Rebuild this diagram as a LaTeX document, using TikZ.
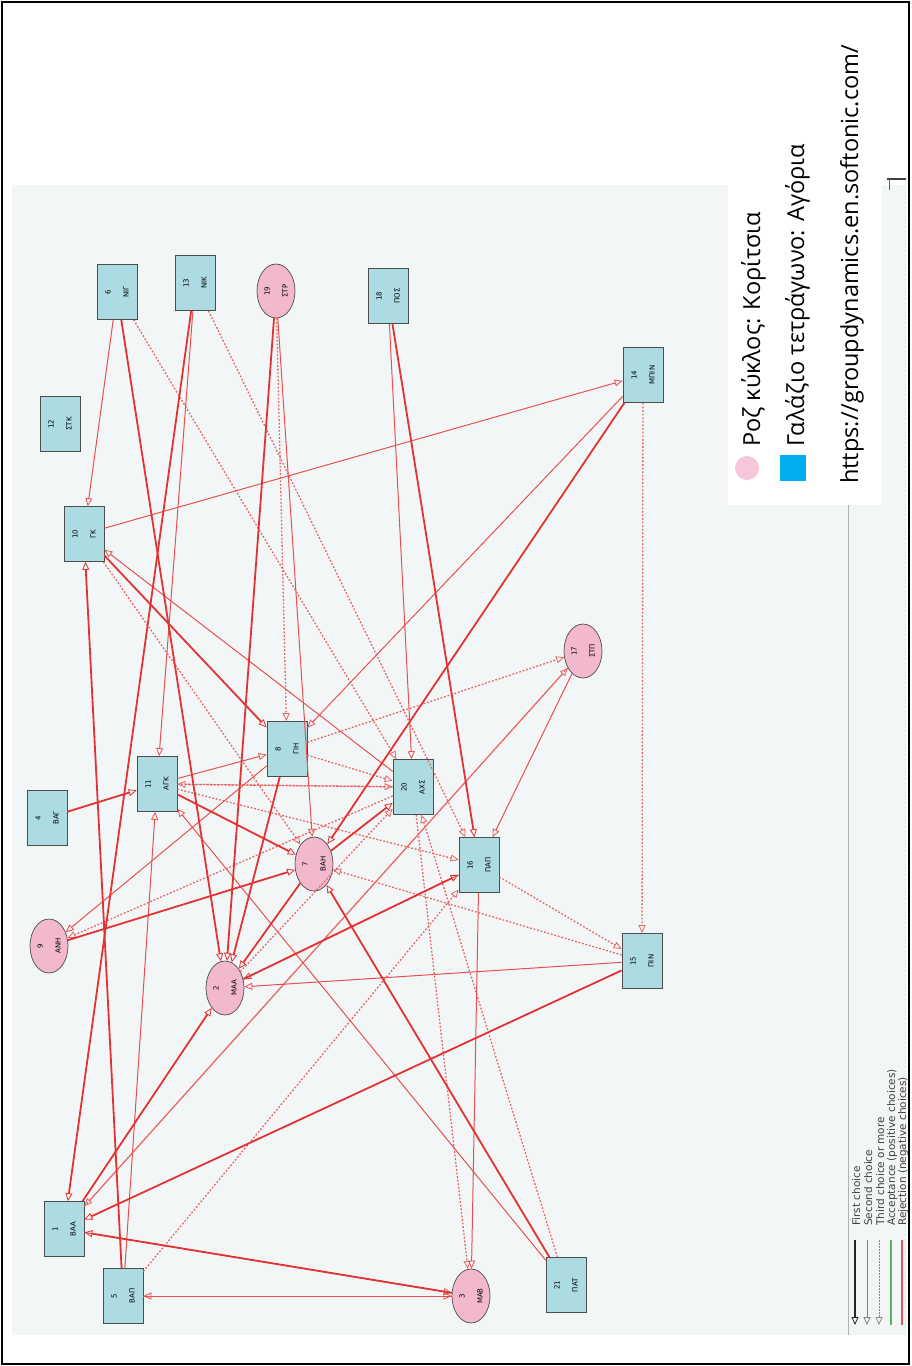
\documentclass[tikz,border=0pt]{standalone}
\usepackage{fontspec}
\setmainfont{DejaVu Sans}
\newfontfamily\legfont{Open Sans}
\usetikzlibrary{arrows.meta,shapes.geometric}
\definecolor{boyblue}{RGB}{172,219,226}
\definecolor{girlpink}{RGB}{242,184,203}
\definecolor{panelbg}{RGB}{243,246,247}
\definecolor{rejred}{RGB}{226,50,50}
\definecolor{rejlight}{RGB}{232,80,80}
\definecolor{rejdot}{RGB}{232,100,100}
\definecolor{markpink}{RGB}{247,198,218}
\definecolor{markblue}{RGB}{0,174,239}
\definecolor{keygreen}{RGB}{90,180,90}
\tikzset{
boy/.style = {draw=black!70, fill=boyblue, rectangle, rotate=90, minimum width=55pt, minimum height=40pt, inner sep=0pt, align=center, line width=0.7pt, font=\fontsize{7}{18}\selectfont},
girl/.style = {draw=black!70, fill=girlpink, ellipse, rotate=90, minimum width=54pt, minimum height=38pt, inner sep=0pt, align=center, line width=0.7pt, font=\fontsize{7}{18}\selectfont},
opentip/.style = {-{Triangle[open,length=8pt,width=7pt,line width=0.8pt]}},
firstch/.style = {opentip, draw=rejred, line width=1.8pt},
secondch/.style = {opentip, draw=rejlight, line width=1pt},
thirdch/.style = {opentip, draw=rejdot, line width=1.3pt, dash pattern=on 1.8pt off 1.8pt},
keyline/.style = {line width=1.6pt},
keytext/.style = {rotate=90, anchor=base west, font=\fontsize{10.5}{12}\selectfont, text=black!75, inner sep=0pt},
legtext/.style = {rotate=90, anchor=base west, font=\legfont\fontsize{23.5}{26}\selectfont, inner sep=0pt}
}
\begin{document}
\begin{tikzpicture}[x=1pt, y=-1pt]
    \useasboundingbox (0,0) rectangle (911,1366);
    \fill [white] (0,0) rectangle (911,1366);
    \fill [panelbg] (12,185) rectangle (905,1335);
    \draw [black!30] (848,505) -- (848,1335);
    \draw [black!15, dotted] (905,185) -- (905,1335);
    \draw [black!75, line width=2pt] (887,179) -- (906,179);
    \draw [black!60, line width=1pt] (889,179) -- (889,190);
    \fill [white] (728,185) rectangle (882,505);
    \draw [line width=2.5pt] (2,2) rectangle (909,1364);
    % students
    \node [boy] (s1) at (64,1229) {1\\ΒΑΑ};
    \node [girl] (s2) at (225,988) {2\\ΜΑΑ};
    \node [girl] (s3) at (471,1296) {3\\ΜΑΒ};
    \node [boy] (s4) at (47,818) {4\\ΒΑΓ};
    \node [boy] (s5) at (123,1296) {5\\ΒΑΠ};
    \node [boy] (s6) at (117,292) {6\\ΝΙΓ};
    \node [girl] (s7) at (314,864) {7\\ΒΑΗ};
    \node [boy] (s8) at (287,749) {8\\ΓΙΗ};
    \node [girl] (s9) at (49,946) {9\\ΑΝΗ};
    \node [boy] (s10) at (84,534) {10\\ΓΚ};
    \node [boy] (s11) at (157,784) {11\\ΑΓΚ};
    \node [boy] (s12) at (60,424) {12\\ΣΤΚ};
    \node [boy] (s13) at (195,283) {13\\ΝΙΚ};
    \node [boy] (s14) at (643,375) {14\\ΜΠΙΝ};
    \node [boy] (s15) at (642,961) {15\\ΠΙΝ};
    \node [boy] (s16) at (479,865) {16\\ΠΑΠ};
    \node [girl] (s17) at (583,651) {17\\ΣΤΠ};
    \node [boy] (s18) at (388,296) {18\\ΠΟΣ};
    \node [girl] (s19) at (276,291) {19\\ΣΤΡ};
    \node [boy] (s20) at (413,787) {20\\ΑΧΣ};
    \node [boy] (s21) at (566,1285) {21\\ΠΑΤ};
    % third choices
    \draw [thirdch] (s6) -- (s20);
    \draw [thirdch] (s13) -- (s16);
    \draw [thirdch] (s19) -- (s8);
    \draw [thirdch] (s14) -- (s15);
    \draw [thirdch] (s11) -- (s20);
    \draw [thirdch] (s20) -- (s11);
    \draw [thirdch] (s11) -- (s16);
    \draw [thirdch] (s20) -- (s9);
    \draw [thirdch] (s15) -- (s7);
    \draw [thirdch] (s16) -- (s15);
    \draw [thirdch] (s20) -- (s3);
    \draw [thirdch] (s21) -- (s20);
    \draw [thirdch] (s1) -- (s17);
    \draw [thirdch] (s17) -- (s1);
    \draw [thirdch] (s5) -- (s16);
    \draw [thirdch] (s10) -- (s7);
    \draw [thirdch] (s8) -- (s17);
    \draw [thirdch] (s8) -- (s20);
    \draw [thirdch] (s2) -- (s20);
    % second choices
    \draw [secondch] (s6) -- (s10);
    \draw [secondch] (s13) -- (s11);
    \draw [secondch] (s19) -- (s7);
    \draw [secondch] (s18) -- (s20);
    \draw [secondch] (s10) -- (s14);
    \draw [secondch] (s14) -- (s8);
    \draw [secondch] (s5) -- (s11);
    \draw [secondch] (s11) -- (s8);
    \draw [secondch] (s21) -- (s11);
    \draw [secondch] (s8) -- (s9);
    \draw [secondch] (s15) -- (s2);
    \draw [secondch] (s16) -- (s2);
    \draw [secondch] (s17) -- (s16);
    \draw [secondch] (s16) -- (s3);
    \draw [secondch] (s1) -- (s3);
    \draw [secondch] (s3) -- (s5);
    \draw [secondch] (s5) -- (s3);
    \draw [secondch] (s20) -- (s10);
    % first choices
    \draw [firstch] (s13) -- (s1);
    \draw [firstch] (s6) -- (s2);
    \draw [firstch] (s19) -- (s2);
    \draw [firstch] (s1) -- (s2);
    \draw [firstch] (s3) -- (s1);
    \draw [firstch] (s15) -- (s1);
    \draw [firstch] (s4) -- (s11);
    \draw [firstch] (s11) -- (s7);
    \draw [firstch] (s14) -- (s7);
    \draw [firstch] (s9) -- (s7);
    \draw [firstch] (s21) -- (s7);
    \draw [firstch] (s7) -- (s2);
    \draw [firstch] (s10) -- (s8);
    \draw [firstch] (s18) -- (s16);
    \draw [firstch] (s2) -- (s16);
    \draw [firstch] (s5) -- (s10);
    \draw [firstch] (s7) -- (s20);
    \draw [firstch] (s8) -- (s2);
    % key of the program
    \node [keytext] (k1) at (860,1226) {First choice};
    \node [keytext] (k2) at (872,1226) {Second choice};
    \node [keytext] (k3) at (884,1226) {Third choice or more};
    \node [keytext] (k4) at (895,1226) {Acceptance (positive choices)};
    \node [keytext] (k5) at (906,1226) {Rejection (negative choices)};
    \coordinate (k1a) at (855,1240); \coordinate (k1b) at (855,1325);
    \coordinate (k2a) at (867,1240); \coordinate (k2b) at (867,1325);
    \coordinate (k3a) at (879,1240); \coordinate (k3b) at (879,1325);
    \coordinate (k4a) at (891,1240); \coordinate (k4b) at (891,1325);
    \coordinate (k5a) at (902,1240); \coordinate (k5b) at (902,1325);
    \draw [keyline, opentip, black!85] (k1a) -- (k1b);
    \draw [opentip, black!50, line width=1pt] (k2a) -- (k2b);
    \draw [opentip, black!45, line width=1pt, dash pattern=on 1.5pt off 1.5pt] (k3a) -- (k3b);
    \draw [keyline, keygreen] (k4a) -- (k4b);
    \draw [keyline, rejred!85] (k5a) -- (k5b);
    % legend
    \node [circle, fill=markpink, minimum size=24pt, inner sep=0pt] (mk1) at (747,468) {};
    \node [rectangle, fill=markblue, minimum size=26pt, inner sep=0pt] (mk2) at (793,468) {};
    \node [legtext] (lg1) at (760,447) {Ροζ κύκλος: Κορίτσια};
    \node [legtext] (lg2) at (804,447) {Γαλάζιο τετράγωνο: Αγόρια};
    \node [legtext] (lg3) at (858,484) {https://groupdynamics.en.softonic.com/};
\end{tikzpicture}
\end{document}
